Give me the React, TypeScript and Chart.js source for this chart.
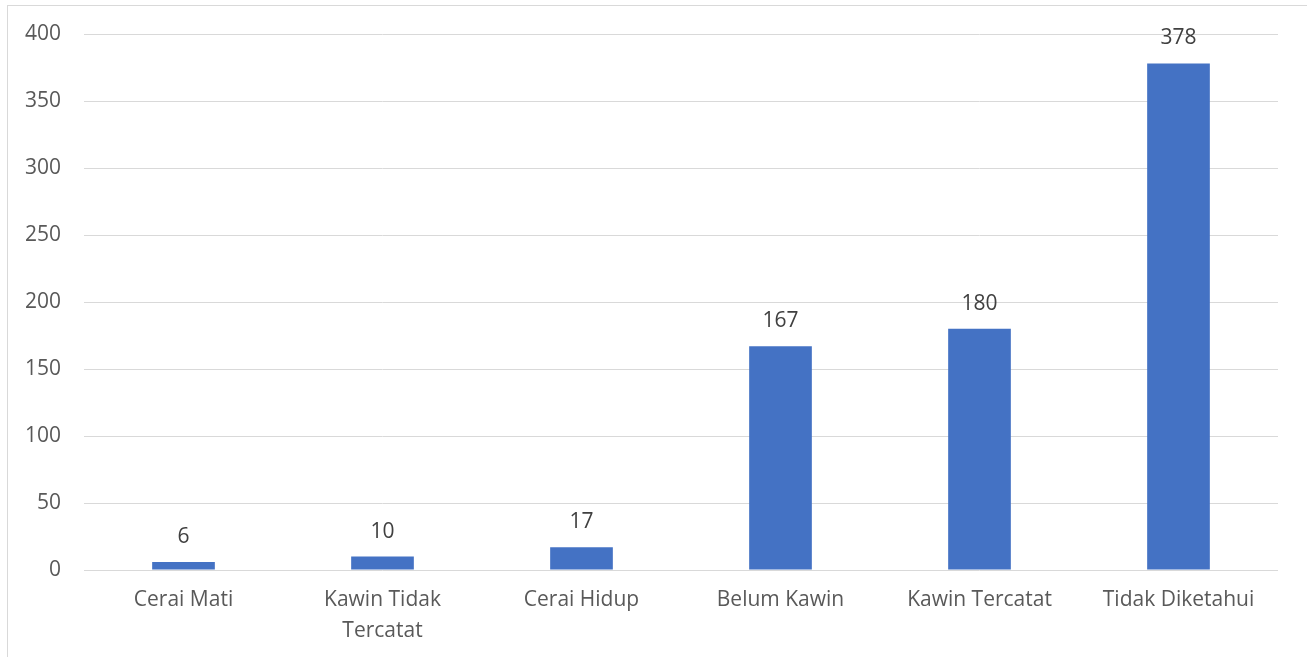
import React, { useEffect, useRef } from "react";
import { Chart, registerables } from "chart.js";

Chart.register(...registerables);

const categories: (string | string[])[] = [
  "Cerai Mati",
  ["Kawin Tidak", "Tercatat"],
  "Cerai Hidup",
  "Belum Kawin",
  "Kawin Tercatat",
  "Tidak Diketahui",
];
const counts: number[] = [6, 10, 17, 167, 180, 378];
const yTicks = { min: 0, max: 400, step: 50 };

const FONT = "'Open Sans', 'Noto Sans', sans-serif";
const FONT_SIZE = 21;

// Draws each bar's value above it
const valueLabels = {
  id: "valueLabels",
  afterDatasetsDraw(chart: any) {
    const ctx = chart.ctx;
    const meta = chart.getDatasetMeta(0);
    ctx.save();
    ctx.font = `${FONT_SIZE}px ${FONT}`;
    ctx.fillStyle = "#404040";
    ctx.textAlign = "center";
    ctx.textBaseline = "middle";
    meta.data.forEach((bar: any, i: number) => {
      ctx.fillText(String(counts[i]), bar.x, bar.y - 25);
    });
    ctx.restore();
  },
};

export default function App() {
  const canvasRef = useRef<HTMLCanvasElement | null>(null);

  useEffect(() => {
    if (!canvasRef.current) return;
    const chart = new Chart(canvasRef.current, {
      type: "bar",
      data: {
        labels: categories as any,
        datasets: [
          {
            data: counts,
            backgroundColor: "#4472C4",
            borderWidth: 0,
            barPercentage: 0.315,
            categoryPercentage: 1,
          },
        ],
      },
      options: {
        animation: false,
        responsive: false,
        maintainAspectRatio: false,
        layout: { padding: { left: 0, right: 29, top: 28, bottom: 0 } },
        plugins: {
          legend: { display: false },
          tooltip: { enabled: false },
        },
        scales: {
          x: {
            grid: { display: false, drawTicks: false },
            border: { display: false },
            ticks: {
              color: "#595959",
              font: { family: FONT, size: FONT_SIZE, lineHeight: 1.48 },
              padding: 14,
              maxRotation: 0,
              autoSkip: false,
            },
            afterFit(scale: any) {
              scale.height = 87;
              scale.paddingLeft = 0;
              scale.paddingRight = 0;
            },
          },
          y: {
            min: yTicks.min,
            max: yTicks.max,
            grid: { color: "#d9d9d9", lineWidth: 1, drawTicks: false },
            border: { display: false },
            ticks: {
              stepSize: yTicks.step,
              color: "#595959",
              font: { family: FONT, size: FONT_SIZE },
              padding: 23,
            },
            afterFit(scale: any) {
              scale.width = 76;
              scale.paddingTop = 0;
              scale.paddingBottom = 0;
            },
          },
        },
      },
      plugins: [valueLabels],
    });
    return () => chart.destroy();
  }, []);

  return (
    <div
      style={{
        position: "fixed",
        left: 7,
        top: 5,
        width: 1320,
        height: 680,
        borderLeft: "1px solid #d9d9d9",
        borderTop: "1px solid #d9d9d9",
        background: "#ffffff",
      }}
    >
      <canvas
        ref={canvasRef}
        width={1299}
        height={651}
        style={{ display: "block", width: 1299, height: 651 }}
      />
    </div>
  );
}
